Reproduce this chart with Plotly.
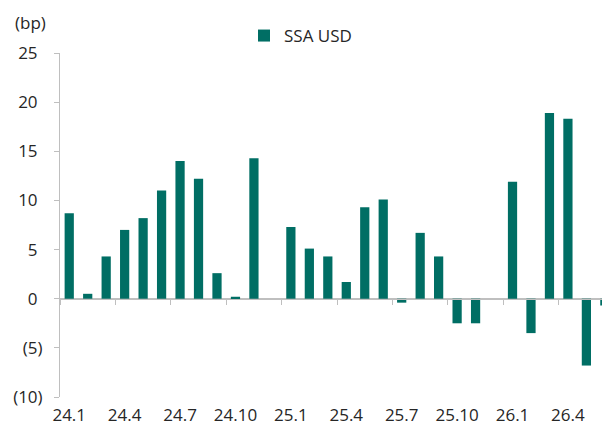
import plotly.graph_objects as go

categories = ["24.1", "24.2", "24.3", "24.4", "24.5", "24.6", "24.7", "24.8", "24.9", "24.10",
              "24.11", "24.12", "25.1", "25.2", "25.3", "25.4", "25.5", "25.6", "25.7", "25.8",
              "25.9", "25.10", "25.11", "25.12", "26.1", "26.2", "26.3", "26.4", "26.5", "26.6"]
ssa_usd = [8.7, 0.5, 4.3, 7.0, 8.2, 11.0, 14.0, 12.2, 2.6, 0.2,
           14.3, None, 7.3, 5.1, 4.3, 1.7, 9.3, 10.1, -0.4, 6.7,
           4.3, -2.5, -2.5, None, 11.9, -3.5, 18.9, 18.3, -6.8, -0.7]
x_ticklabels = ["24.1", "24.4", "24.7", "24.10", "25.1", "25.4", "25.7", "25.10", "26.1", "26.4"]
y_tickvals = [-10, -5, 0, 5, 10, 15, 20, 25]

BAR = "#006E64"
AXIS = "#BFBFBF"
TXT = "#262626"
FONT = "Open Sans"
FS = 17
INV = "<span style='color:rgba(0,0,0,0)'>)</span>"

def ylab(v):
    return f"({abs(v)})" if v < 0 else f"{v}{INV}"

xr = [-0.5, -0.5 + 542 / 18.47]

fig = go.Figure()
fig.add_trace(go.Bar(x=categories, y=ssa_usd, name="SSA USD", marker_color=BAR,
                     marker_line_width=0))
# empty trace so the zero-crossing category axis (x2) gets drawn
fig.add_trace(go.Bar(x=[], y=[], xaxis="x2", showlegend=False, hoverinfo="skip"))

fig.update_layout(
    width=602, height=425,
    margin=dict(l=60, r=0, t=53, b=28, autoexpand=False),
    plot_bgcolor="white", paper_bgcolor="white",
    bargap=0.5,
    font=dict(family=FONT, size=FS, color=TXT),
    showlegend=True,
    legend=dict(xref="container", yref="container", x=244 / 602, xanchor="left",
                y=(425 - 36) / 425, yanchor="middle",
                orientation="h", font=dict(size=FS, color=TXT), bgcolor="rgba(0,0,0,0)"),
    xaxis=dict(type="category", categoryorder="array", categoryarray=categories,
               range=xr, tickmode="array", tickvals=x_ticklabels, ticktext=x_ticklabels,
               showline=False, ticks="", showgrid=False, zeroline=False, automargin=False,
               ticklabelstandoff=6, tickfont=dict(size=FS, color=TXT)),
    xaxis2=dict(type="linear", overlaying="x", anchor="free", position=10 / 35,
                range=xr, tickmode="array", tickvals=[-0.5 + 3 * k for k in range(11)],
                showticklabels=False, showline=True, linecolor=AXIS, linewidth=1,
                ticks="outside", ticklen=5, tickcolor=AXIS, showgrid=False, zeroline=False,
                automargin=False),
    yaxis=dict(range=[-10, 25], tickmode="array", tickvals=y_tickvals,
               ticktext=[ylab(v) for v in y_tickvals],
               showline=True, linecolor=AXIS, linewidth=1, ticks="outside", ticklen=5,
               tickcolor=AXIS, showgrid=False, zeroline=True, zerolinecolor=AXIS,
               zerolinewidth=1, ticklabelstandoff=8,
               automargin=False, tickfont=dict(size=FS, color=TXT)),
    annotations=[dict(text="(bp)", xref="paper", yref="paper", x=(13 - 60) / 542,
                      y=(397 - 22) / 344, xanchor="left", yanchor="middle", showarrow=False,
                      font=dict(size=FS, color=TXT))],
)

fig.write_html("out.html", config={"displayModeBar": False},
               post_script="document.body.style.margin='0';document.body.style.overflow='hidden';")
